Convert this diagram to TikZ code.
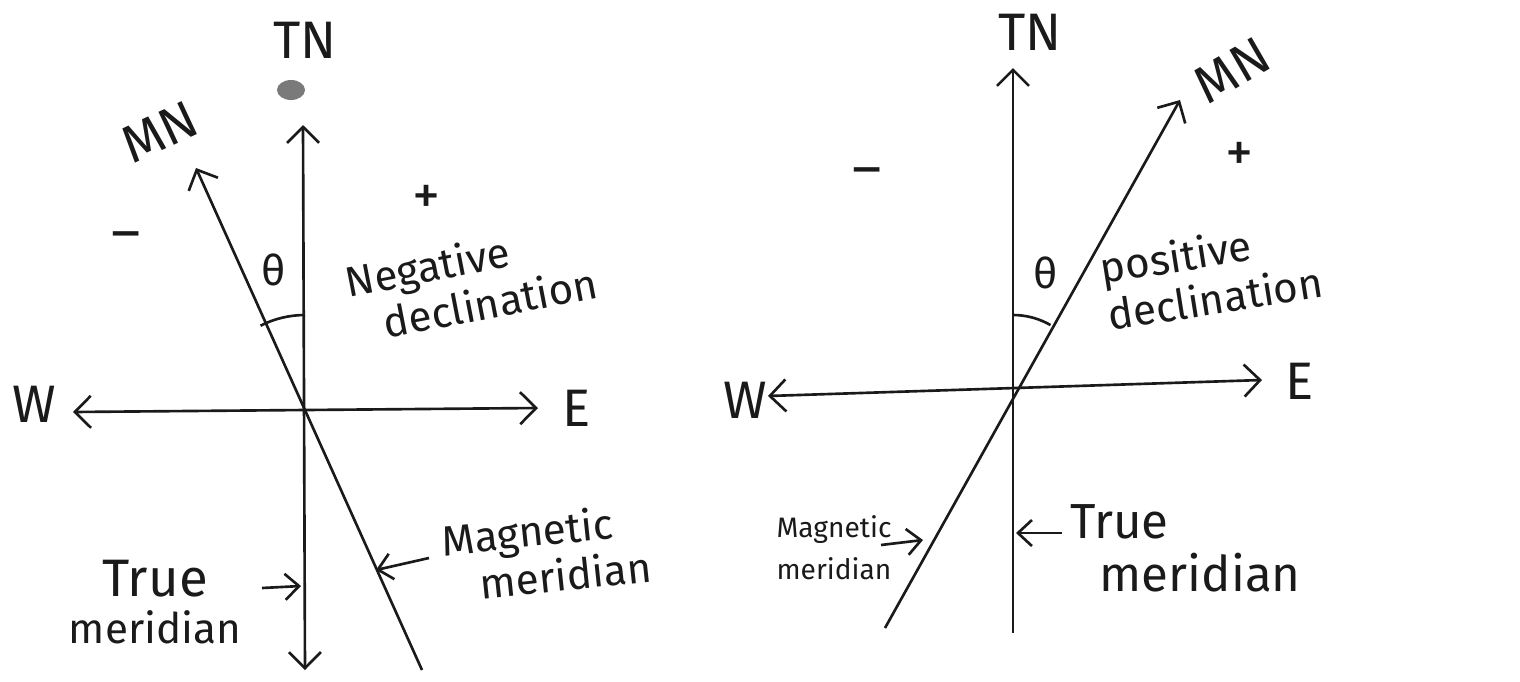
\documentclass[tikz,border=0pt]{standalone}
\usepackage{fontspec}
\setmainfont{Fira Sans}
\usetikzlibrary{arrows.meta}
\definecolor{ink}{HTML}{1A1A1A}
\definecolor{smudge}{HTML}{7A7A7A}
\tikzset{
  line/.style={line width=0.75pt,draw=ink},
  tipend/.style={line,-{Straight Barb[length=1.6mm,width=3.2mm]}},
  tipboth/.style={line,{Straight Barb[length=1.6mm,width=3.2mm]}-{Straight Barb[length=1.6mm,width=3.2mm]}},
  pointer/.style={line,-{Straight Barb[length=1.4mm,width=2.6mm]}},
  lbl/.style={text=ink,inner sep=1pt,font=\fontsize{12}{13}\selectfont},
  dir/.style={lbl,font=\fontsize{15}{16}\selectfont},
  sign/.style={lbl,font=\fontsize{16}{16}\selectfont},
  note/.style={lbl,align=center,font=\fontsize{12}{13.5}\selectfont},
  small/.style={lbl,align=center,font=\fontsize{8}{12}\selectfont}
}
\begin{document}
\begin{tikzpicture}[x=0.01cm,y=-0.01cm]
\useasboundingbox (0,0) rectangle (1520,681);

% negative declination
\coordinate (o1) at (303,413);
\coordinate (tn1top) at (303,125); \coordinate (tn1bot) at (305,670);
\coordinate (w1) at (73,412); \coordinate (e1) at (538,408);
\coordinate (mn1top) at (196,168); \coordinate (mn1bot) at (422,670);
\draw[tipboth] (tn1bot) -- (tn1top);
\draw[tipboth] (w1) -- (e1);
\draw[tipend] (mn1bot) -- (mn1top);
\draw[line] (305,315) arc[start angle=-90,end angle=-117,radius=98];

\node[dir] (tn1) at (305,40) {TN};
\fill[smudge] (291,90) ellipse[x radius=14,y radius=10];
\node[dir,rotate=25] (mn1) at (160,132) {MN};
\node[dir] (west1) at (34,404) {W};
\node[dir] (east1) at (577,408) {E};
\node[sign] (minus1) at (126,242) {–};
\node[sign] (plus1) at (427,200) {+};
\node[note] (theta1) at (274,270) {θ};
\node[note,align=left,rotate=11,anchor=west] (neg) at (346,306) {Negative\\\hspace*{0.7em}declination};

\node[note] (tm1) at (155,602) {\fontsize{15}{16}\selectfont True\\meridian};
\coordinate (tm1tail) at (262,588); \coordinate (tm1head) at (301,586);
\draw[pointer] (tm1tail) -- (tm1head);
\node[note,align=left,rotate=6,anchor=west] (mm1) at (440,564) {Magnetic\\\hspace*{0.8em}meridian};
\coordinate (mm1tail) at (429,558); \coordinate (mm1head) at (376,570);
\draw[pointer] (mm1tail) -- (mm1head);

% positive declination
\coordinate (o2) at (1013,390);
\coordinate (tn2top) at (1013,68); \coordinate (tn2bot) at (1013,633);
\coordinate (w2) at (768,396); \coordinate (e2) at (1262,380);
\coordinate (mn2top) at (1180,100); \coordinate (mn2bot) at (885,628);
\draw[tipend] (tn2bot) -- (tn2top);
\draw[tipboth] (w2) -- (e2);
\draw[tipend] (mn2bot) -- (mn2top);
\draw[line] (1013,315) arc[start angle=-90,end angle=-60,radius=75];

\node[dir] (tn2) at (1030,32) {TN};
\node[dir,rotate=30] (mn2) at (1232,70) {MN};
\node[dir] (west2) at (745,400) {W};
\node[dir] (east2) at (1300,381) {E};
\node[sign] (minus2) at (867,178) {–};
\node[sign] (plus2) at (1240,157) {+};
\node[note] (theta2) at (1046,273) {θ};
\node[note,align=left,rotate=9,anchor=west] (pos) at (1100,292) {positive\\declination};

\node[small] (mm2) at (834,548) {Magnetic\\meridian};
\coordinate (mm2tail) at (881,545); \coordinate (mm2head) at (923,540);
\draw[pointer] (mm2tail) -- (mm2head);
\node[note,align=left,anchor=west,font=\fontsize{14}{15}\selectfont] (tm2) at (1066,548) {True\\\hspace*{0.6em}meridian};
\coordinate (tm2tail) at (1062,533); \coordinate (tm2head) at (1016,533);
\draw[pointer] (tm2tail) -- (tm2head);
\end{tikzpicture}
\end{document}
